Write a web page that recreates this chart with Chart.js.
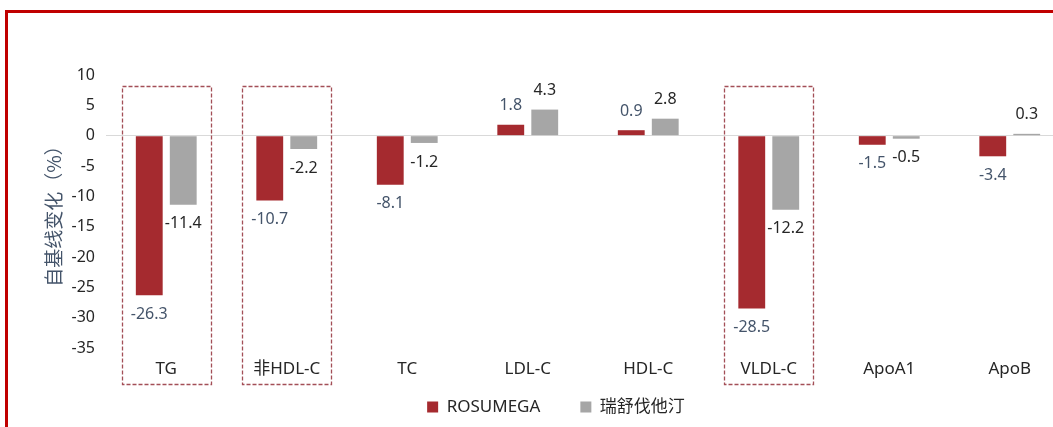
<!DOCTYPE html>
<html>
<head>
<meta charset="utf-8">
<script src="https://cdn.jsdelivr.net/npm/chart.js@4"></script>
<style>
  html, body { margin: 0; padding: 0; background: #fff; }
  body { width: 1053px; height: 427px; overflow: hidden; position: relative; }
  .frame {
    position: absolute; left: 5px; top: 10px; width: 1200px; height: 600px;
    border-top: 3px solid #c00000; border-left: 3px solid #c00000;
  }
  .chart-box { position: absolute; left: 0; top: 0; width: 1070px; height: 427px; }
</style>
</head>
<body>
<div class="frame"></div>
<div class="chart-box"><canvas id="lipidChart"></canvas></div>
<script>
// Lipid parameters, percent change from baseline
const categories = ['TG', '非HDL-C', 'TC', 'LDL-C', 'HDL-C', 'VLDL-C', 'ApoA1', 'ApoB'];
const rosumegaValues = [-26.3, -10.7, -8.1, 1.8, 0.9, -28.5, -1.5, -3.4];
const rosuvastatinValues = [-11.4, -2.2, -1.2, 4.3, 2.8, -12.2, -0.5, 0.3];
const yTicks = [10, 5, 0, -5, -10, -15, -20, -25, -30, -35];
const highlighted = ['TG', '非HDL-C', 'VLDL-C'];

const latinFont = '"Noto Sans", "Noto Sans CJK SC", sans-serif';
const cjkFont = '"Noto Sans CJK SC", "Noto Sans", sans-serif';

// Value labels above / below each bar end
const valueLabels = {
    id: 'valueLabels',
    afterDatasetsDraw(chart) {
        const ctx = chart.ctx;
        const colors = ['#44546a', '#262626'];
        ctx.save();
        ctx.font = '16px ' + latinFont;
        ctx.textAlign = 'center';
        ctx.textBaseline = 'middle';
        chart.data.datasets.forEach((ds, di) => {
            const meta = chart.getDatasetMeta(di);
            ctx.fillStyle = colors[di];
            meta.data.forEach((bar, i) => {
                const v = ds.data[i];
                const y = v < 0 ? bar.y + 19 : bar.y - 19;
                ctx.fillText(v.toFixed(1), bar.x, y);
            });
        });
        ctx.restore();
    }
};

// Dashed frames around the key parameters
const highlightBoxes = {
    id: 'highlightBoxes',
    afterDraw(chart) {
        const ctx = chart.ctx;
        const x = chart.scales.x;
        const area = chart.chartArea;
        const catWidth = (area.right - area.left) / categories.length;
        const half = catWidth * 0.369;
        ctx.save();
        ctx.strokeStyle = '#a34f57';
        ctx.lineWidth = 1.3;
        ctx.setLineDash([4, 2]);
        highlighted.forEach(name => {
            const cx = x.getPixelForValue(categories.indexOf(name));
            const top = area.top + 11;
            const bottom = area.bottom + 36;
            ctx.strokeRect(Math.round(cx - half) + 0.5, top + 0.5, Math.round(half * 2), bottom - top);
        });
        ctx.restore();
    }
};

// The x axis box is kept thin so the legend sits close; widen its
// label clip area after layout so the category names still show
const xLabelRoom = {
    id: 'xLabelRoom',
    afterLayout(chart) {
        chart.scales.x.bottom = chart.height;
    }
};

const ctx = document.getElementById('lipidChart').getContext('2d');
const lipidChart = new Chart(ctx, {
    type: 'bar',
    data: {
        labels: categories,
        datasets: [{
            label: 'ROSUMEGA',
            data: rosumegaValues,
            backgroundColor: '#a52a2f',
            categoryPercentage: 0.564,
            barPercentage: 0.79
        }, {
            label: '瑞舒伐他汀',
            data: rosuvastatinValues,
            backgroundColor: '#a6a6a6',
            categoryPercentage: 0.564,
            barPercentage: 0.79
        }]
    },
    options: {
        responsive: true,
        maintainAspectRatio: false,
        animation: false,
        layout: {
            padding: { top: 75, left: 42, right: 0, bottom: 1.5 }
        },
        plugins: {
            legend: {
                position: 'bottom',
                labels: {
                    boxWidth: 11,
                    boxHeight: 11,
                    padding: 40,
                    color: '#262626',
                    font: { size: 17, family: latinFont }
                }
            },
            tooltip: { enabled: false }
        },
        scales: {
            x: {
                border: { display: false },
                grid: { display: false, drawTicks: false },
                ticks: {
                    padding: 11,
                    maxRotation: 0,
                    autoSkip: false,
                    color: '#262626',
                    font: { size: 17, family: latinFont }
                },
                afterFit(scale) { scale.height = 10.5; }
            },
            y: {
                min: -35,
                max: 10,
                border: { display: false },
                afterBuildTicks(scale) {
                    scale.ticks = yTicks.map(v => ({ value: v }));
                },
                grid: {
                    drawTicks: false,
                    color: c => (c.tick && c.tick.value === 0 ? '#d9d9d9' : 'rgba(0,0,0,0)'),
                    lineWidth: 1
                },
                ticks: {
                    padding: 11,
                    color: '#262626',
                    font: { size: 16, family: latinFont }
                },
                title: {
                    display: true,
                    text: '自基线变化（%）',
                    color: '#44546a',
                    padding: 0,
                    font: { size: 19, family: cjkFont }
                },
                afterFit(scale) { scale.width = 64; }
            }
        }
    },
    plugins: [highlightBoxes, valueLabels, xLabelRoom]
});
</script>
</body>
</html>
